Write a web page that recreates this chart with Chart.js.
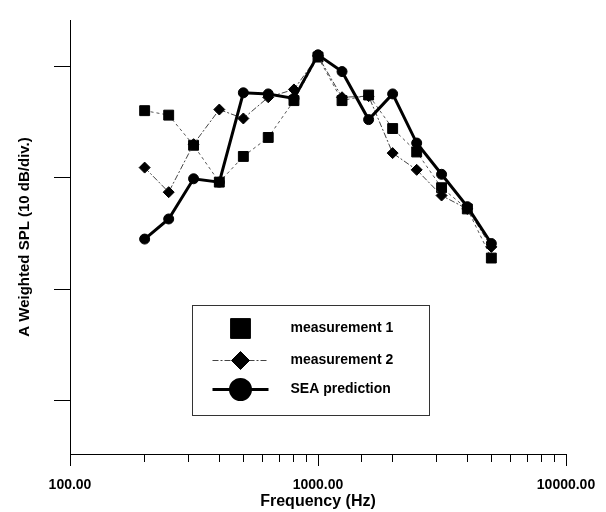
<!DOCTYPE html>
<html>
<head>
<meta charset="utf-8">
<script src="https://cdn.jsdelivr.net/npm/chart.js@4.4.0/dist/chart.umd.min.js"></script>
<style>
    html, body { margin: 0; padding: 0; background: #fff; }
</style>
</head>
<body>
<canvas id="splChart" width="606" height="512"></canvas>
<script>
// one-third octave band centre frequencies (Hz)
const frequencies = [200, 250, 315, 400, 500, 630, 800, 1000, 1250, 1600, 2000, 2500, 3150, 4000, 5000];

// A weighted SPL, dB (axis only shows 10 dB divisions)
const measurement1 = [56.0, 55.6, 52.9, 49.6, 51.9, 53.6, 56.9, 60.8, 56.9, 57.4, 54.4, 52.3, 49.1, 47.2, 42.8];
const measurement2 = [50.9, 48.7, 53.0, 56.1, 55.3, 57.2, 57.9, 60.9, 57.2, 57.3, 52.2, 50.7, 48.4, 47.2, 43.8];
const seaPrediction = [44.5, 46.3, 49.9, 49.6, 57.6, 57.5, 57.1, 61.0, 59.5, 55.2, 57.5, 53.1, 50.3, 47.4, 44.1];

const xTickLabels = [100, 1000, 10000];
const yDivisions = [30, 40, 50, 60];

function toPoints(values) {
    return frequencies.map(function (f, i) {
        return { x: f, y: values[i] };
    });
}

function isDecade(v) {
    var l = Math.log10(v);
    return Math.abs(l - Math.round(l)) < 1e-6;
}

const legendRows = [
    { dataset: 0, showLine: false, radius: 14 },
    { dataset: 1, showLine: true, radius: 9 },
    { dataset: 2, showLine: true, radius: 10 }
];

// legend box drawn inside the plot area, like the original figure
const boxLegend = {
    id: 'boxLegend',
    afterDraw(chart) {
        var ctx = chart.ctx;
        var area = chart.chartArea;
        var left = area.left + 122.5;
        var top = area.top + 285.5;
        var w = 237;
        var h = 110;

        ctx.save();
        ctx.strokeStyle = '#333';
        ctx.lineWidth = 1;
        ctx.strokeRect(left, top, w, h);

        var rowY = [23, 55, 84];
        legendRows.forEach(function (row, i) {
            var ds = chart.data.datasets[row.dataset];
            var cx = left + 48;
            var cy = top + rowY[i];

            if (row.showLine) {
                ctx.beginPath();
                ctx.setLineDash(ds.borderDash || []);
                ctx.lineWidth = ds.borderWidth;
                ctx.strokeStyle = ds.borderColor;
                ctx.moveTo(cx - 28, cy);
                ctx.lineTo(cx + 28, cy);
                ctx.stroke();
                ctx.setLineDash([]);
            }

            ctx.fillStyle = ds.pointBackgroundColor;
            ctx.strokeStyle = ds.pointBorderColor;
            Chart.helpers.drawPoint(ctx, {
                pointStyle: ds.pointStyle,
                radius: row.radius,
                rotation: 0,
                borderWidth: 1
            }, cx, cy);

            ctx.fillStyle = '#000';
            ctx.font = 'bold 14px "Liberation Sans", Arial, sans-serif';
            ctx.textAlign = 'left';
            ctx.textBaseline = 'middle';
            ctx.fillText(ds.label, left + 98, cy);
        });
        ctx.restore();
    }
};

function initChart() {

    var splChartControl = document.getElementById('splChart');

    new Chart(splChartControl, {
        type: 'line',
        data: {
            datasets: [
                {
                    label: 'measurement 1',
                    data: toPoints(measurement1),
                    borderColor: '#555',
                    borderWidth: 1,
                    borderDash: [3, 3],
                    pointStyle: 'rect',
                    pointRadius: 7,
                    pointBackgroundColor: '#000',
                    pointBorderColor: '#000',
                    pointBorderWidth: 1,
                    order: 3
                },
                {
                    label: 'measurement 2',
                    data: toPoints(measurement2),
                    borderColor: '#444',
                    borderWidth: 1,
                    borderDash: [6, 2, 2, 2],
                    pointStyle: 'rectRot',
                    pointRadius: 5.5,
                    pointBackgroundColor: '#000',
                    pointBorderColor: '#000',
                    pointBorderWidth: 1,
                    order: 2
                },
                {
                    label: 'SEA prediction',
                    data: toPoints(seaPrediction),
                    borderColor: '#000',
                    borderWidth: 3,
                    pointStyle: 'circle',
                    pointRadius: 5,
                    pointBackgroundColor: '#000',
                    pointBorderColor: '#000',
                    pointBorderWidth: 1,
                    order: 1
                }
            ]
        },
        options: {
            responsive: false,
            animation: false,
            events: [],
            layout: {
                padding: { top: 20, left: 0, right: 40, bottom: 0 }
            },
            scales: {
                x: {
                    type: 'logarithmic',
                    min: 100,
                    max: 10000,
                    border: { display: true, color: '#000', width: 1 },
                    grid: {
                        drawOnChartArea: false,
                        drawTicks: true,
                        tickLength: 12,
                        tickColor: '#000',
                        tickWidth: 1,
                        tickBorderDash: (context) => (context.tick && isDecade(context.tick.value)) ? [] : [7, 30]
                    },
                    ticks: {
                        autoSkip: false,
                        maxRotation: 0,
                        minRotation: 0,
                        padding: 11,
                        color: '#000',
                        font: { family: '"Liberation Sans", Arial, sans-serif', size: 14, weight: 'bold' },
                        callback: (value) => (isDecade(value) && xTickLabels.indexOf(Math.round(value)) >= 0) ? Number(value).toFixed(2) : ''
                    },
                    title: {
                        display: true,
                        text: 'Frequency (Hz)',
                        color: '#000',
                        font: { family: '"Liberation Sans", Arial, sans-serif', size: 16, weight: 'bold' },
                        padding: { top: 0, bottom: 1 }
                    },
                    afterFit: (scale) => {
                        scale.height = 58;
                        scale.paddingLeft = 0;
                        scale.paddingRight = 0;
                    }
                },
                y: {
                    min: 25.25,
                    max: 64.12,
                    afterBuildTicks: (scale) => {
                        scale.ticks = yDivisions.map(v => ({ value: v }));
                    },
                    border: { display: true, color: '#000', width: 1 },
                    grid: {
                        drawOnChartArea: false,
                        drawTicks: true,
                        tickLength: 16,
                        tickColor: '#000'
                    },
                    ticks: {
                        display: false
                    },
                    title: {
                        display: true,
                        text: 'A Weighted SPL (10 dB/div.)',
                        color: '#000',
                        font: { family: '"Liberation Sans", Arial, sans-serif', size: 15, weight: 'bold' },
                        padding: { top: 16, bottom: 0 }
                    },
                    afterFit: (scale) => {
                        scale.width = 70;
                        scale.paddingTop = 0;
                        scale.paddingBottom = 0;
                    }
                }
            },
            plugins: {
                legend: { display: false },
                tooltip: { enabled: false }
            }
        },
        plugins: [boxLegend]
    });
}

initChart();
</script>
</body>
</html>
